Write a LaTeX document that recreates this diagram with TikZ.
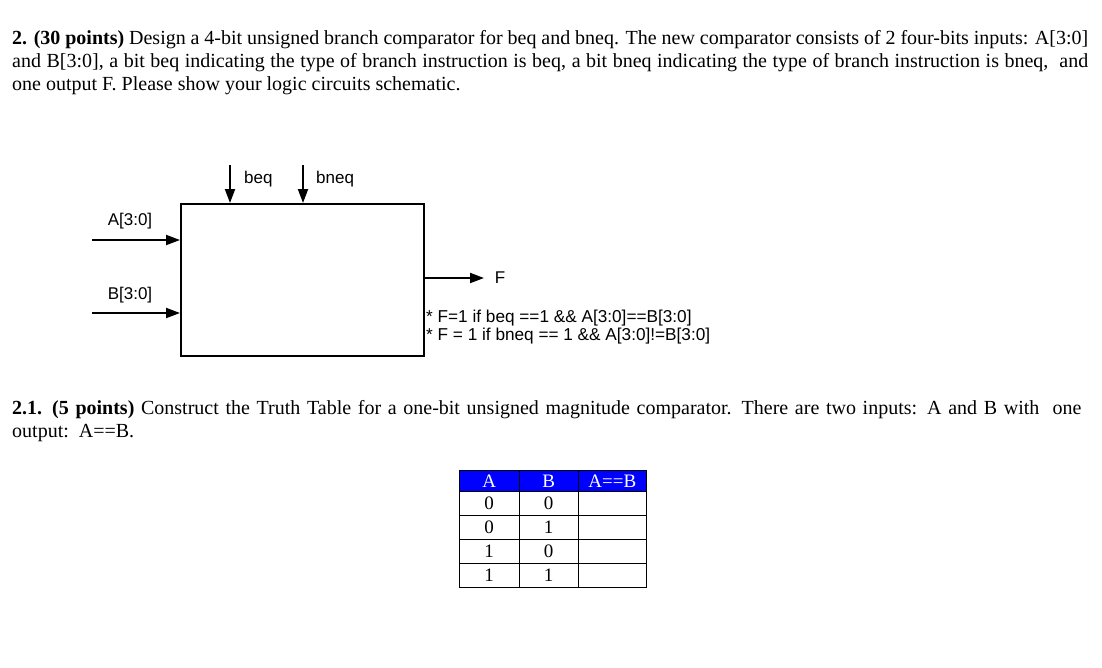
\documentclass[tikz,border=0pt]{standalone}
\usepackage{fontspec}
\setmainfont{Liberation Serif}
\newfontfamily\arial{Liberation Sans}
\usetikzlibrary{arrows.meta}
\definecolor{hdr}{RGB}{0,0,255}
\begin{document}
\begin{tikzpicture}[x=1pt,y=-1pt,
  para/.style={anchor=north west,inner sep=0pt,text width=1076pt,align=justify,font=\fontsize{20}{23}\selectfont},
  lbl/.style={font=\arial\fontsize{17}{19}\selectfont,inner sep=0pt},
  note/.style={font=\arial\fontsize{17.2}{19}\selectfont,inner sep=0pt},
  sig/.style={line width=2pt,-{Triangle[length=14pt,width=10pt]}},
  cell/.style={draw,line width=0.8pt,minimum width=59.5pt,minimum height=24pt,inner sep=0pt,font=\fontsize{19}{19}\selectfont}]
\useasboundingbox (0,0) rectangle (1102,667);
\node[para] (t1) at (12,30) {\textbf{2. (30 points)} Design a 4-bit unsigned branch comparator for beq and bneq. The new comparator consists of 2 four-bits inputs: A[3:0] and B[3:0], a bit beq indicating the type of branch instruction is beq, a bit bneq indicating the type of branch instruction is bneq,\ \ and one output F. Please show your logic circuits schematic.};
\node[draw,line width=2pt,minimum width=243pt,minimum height=152pt,anchor=north west,inner sep=0pt] (box) at (180,203) {};
\coordinate (ain) at (92,240); \coordinate (bin) at (92,313);
\coordinate (beqin) at (230,165); \coordinate (bneqin) at (303,165);
\draw[sig] (ain) -- (ain -| box.west);
\draw[sig] (bin) -- (bin -| box.west);
\draw[sig] (beqin) -- (beqin |- box.north);
\draw[sig] (bneqin) -- (bneqin |- box.north);
\coordinate (fout) at (484,278);
\draw[sig] (fout -| box.east) -- (fout);
\node[lbl] (la) at (130,221) {A[3:0]};
\node[lbl] (lb) at (130,295) {B[3:0]};
\node[lbl,anchor=west] (lbeq) at (244,179) {beq};
\node[lbl,anchor=west] (lbneq) at (316,179) {bneq};
\node[lbl] (lf) at (500,278) {F};
\node[note,anchor=west] (n1) at (426,318) {* F=1 if beq ==1 \&\& A[3:0]==B[3:0]};
\node[note,anchor=west] (n2) at (426,336) {* F = 1 if bneq == 1 \&\& A[3:0]!=B[3:0]};
\node[para,align=left] (t2) at (12,400) {\textbf{2.1. (5 points)} Construct the Truth Table for a one-bit unsigned magnitude comparator. There are two inputs: A and B with\ \ one\\ output: A==B.};
\node[cell,anchor=north west,fill=hdr,text=white,minimum height=21pt] (ha) at (459,470) {A};
\node[cell,anchor=north west,fill=hdr,text=white,minimum height=21pt] (hb) at (518.5,470) {B};
\node[cell,anchor=north west,fill=hdr,text=white,minimum height=21pt,minimum width=68pt] (hc) at (578,470) {A==B};
\foreach \a/\b [count=\r from 0] in {0/0,0/1,1/0,1/1} {
  \node[cell,anchor=north west] (ca\r) at (459,491+24*\r) {\a};
  \node[cell,anchor=north west] (cb\r) at (518.5,491+24*\r) {\b};
  \node[cell,anchor=north west,minimum width=68pt] (cc\r) at (578,491+24*\r) {};
}
\end{tikzpicture}
\end{document}
